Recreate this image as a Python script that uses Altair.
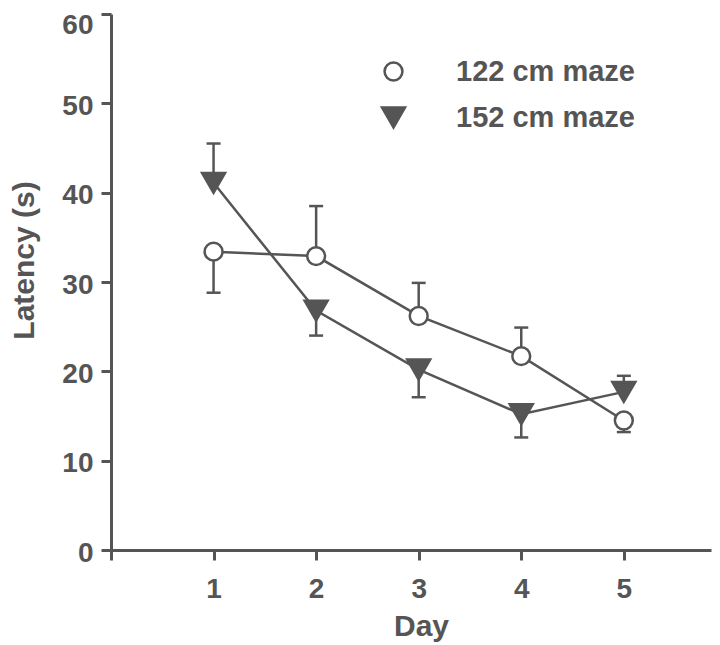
import altair as alt
import pandas as pd

days = [1, 2, 3, 4, 5]
series_names = ["122 cm maze", "152 cm maze"]
mean_122 = [33.4, 32.9, 26.2, 21.7, 14.5]
err_122 = [28.8, 38.5, 29.9, 24.9, 13.2]
mean_152 = [41.1, 26.8, 20.2, 15.2, 17.7]
err_152 = [45.5, 24.0, 17.1, 12.6, 19.5]
y_ticks = [0, 10, 20, 30, 40, 50, 60]
x_ticks = [0, 1, 2, 3, 4, 5]

rows = []
for name, means, errs in [(series_names[0], mean_122, err_122), (series_names[1], mean_152, err_152)]:
    for d, m, e in zip(days, means, errs):
        rows.append({"day": d, "latency": m, "err": e, "series": name})
df = pd.DataFrame(rows)

GRAY = "#555555"
FONT = "Liberation Sans"

x = alt.X("day:Q",
          scale=alt.Scale(domain=[0, 5.85], nice=False, zero=False),
          axis=alt.Axis(title="Day", values=x_ticks,
                        labelExpr="datum.value == 0 ? '' : datum.label",
                        titleX=310, titleY=61, titleBaseline="top"))
y = alt.Y("latency:Q",
          scale=alt.Scale(domain=[0, 60], nice=False),
          axis=alt.Axis(title="Latency (s)", values=y_ticks,
                        labelOffset={"condition": {"test": "datum.value == 60", "value": 11}, "value": 3},
                        titleX=-72, titleY=246, titleAngle=270,
                        titleBaseline="bottom", titleAlign="center"))

base = alt.Chart(df)

err_rule = base.mark_rule(color=GRAY, strokeWidth=2.5).encode(
    x=x, y=y, y2="err:Q")
err_cap = base.mark_rule(color=GRAY, strokeWidth=2.5, xOffset=-7, x2Offset=7).encode(
    x=x, x2="day:Q", y="err:Q")
lines = base.mark_line(color=GRAY, strokeWidth=2.5).encode(
    x=x, y=y, detail="series:N")
points = base.mark_point(stroke=GRAY, strokeWidth=2.5, opacity=1, filled=False).encode(
    x=x, y=y,
    shape=alt.Shape("series:N", scale=alt.Scale(domain=series_names, range=["circle", "triangle-down"]),
                    legend=alt.Legend(title=None, orient="none", legendX=268, legendY=43,
                                      labelFont=FONT, labelFontSize=29, labelFontWeight="bold",
                                      labelColor=GRAY, labelOffset=48, rowPadding=15, labelLimit=0,
                                      symbolStrokeColor=GRAY, symbolStrokeWidth=2.5)),
    fill=alt.Fill("series:N", scale=alt.Scale(domain=series_names, range=["white", GRAY])),
    size=alt.Size("series:N", scale=alt.Scale(domain=series_names, range=[320, 529])),
)

chart = alt.layer(err_rule, err_cap, lines, points).properties(
    width=600, height=536,
    autosize=alt.AutoSizeParams(type="none"),
    padding={"left": 103, "top": 6, "right": 1, "bottom": 95},
).configure_view(stroke=None).configure_axis(
    grid=False, domainColor=GRAY, domainWidth=3, tickColor=GRAY, tickWidth=3, tickSize=10,
    labelFont=FONT, labelFontSize=28, labelFontWeight="bold", labelColor=GRAY,
    titleFont=FONT, titleFontSize=30, titleFontWeight="bold", titleColor=GRAY,
).configure_axisX(labelPadding=15).configure_axisY(labelPadding=8)

chart.save("out.html", embed_options={"renderer": "svg", "actions": False})
